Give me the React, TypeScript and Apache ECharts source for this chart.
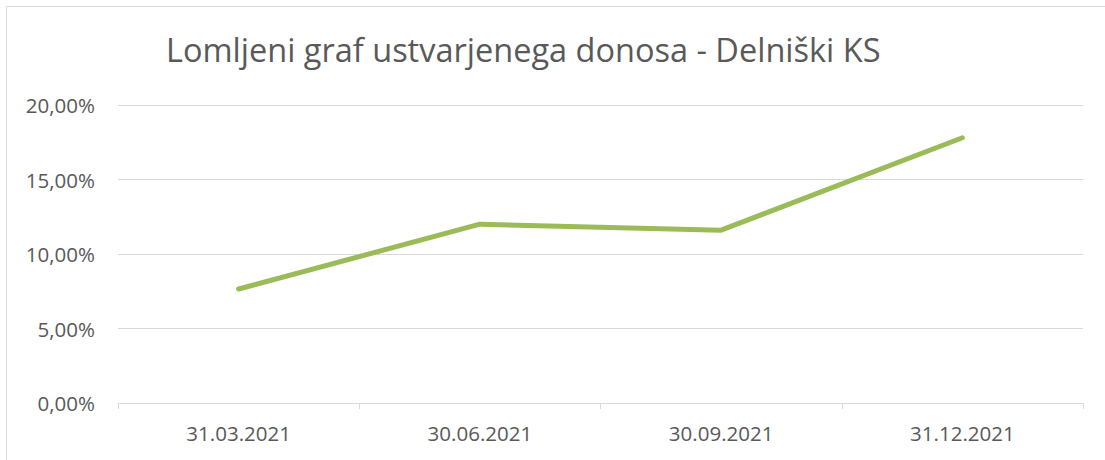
import React, { useEffect, useRef } from "react";
import * as echarts from "echarts";

const categories = ["31.03.2021", "30.06.2021", "30.09.2021", "31.12.2021"];
const values = [7.65, 12.0, 11.6, 17.8];
const titleText = "Lomljeni graf ustvarjenega donosa - Delniški KS";

export default function App() {
  const ref = useRef<HTMLDivElement>(null);
  useEffect(() => {
    document.body.style.margin = "0";
    const chart = echarts.init(ref.current!, null, { renderer: "svg" });
    const font = "'Open Sans', sans-serif";
    chart.setOption({
      animation: false,
      backgroundColor: "#ffffff",
      title: {
        text: titleText,
        left: 161,
        top: 28,
        textStyle: { fontFamily: font, fontSize: 32.5, fontWeight: "normal", color: "#595959" },
      },
      graphic: [
        {
          type: "rect",
          shape: { x: 6.5, y: 6.5, width: 1110, height: 470 },
          style: { fill: "none", stroke: "#d9d9d9", lineWidth: 1 },
          silent: true,
        },
      ],
      grid: { left: 118, right: 22, top: 105, bottom: 57, containLabel: false },
      xAxis: {
        type: "category",
        data: categories,
        boundaryGap: true,
        axisLine: { lineStyle: { color: "#d9d9d9", width: 1 } },
        axisTick: { show: true, length: 6, lineStyle: { color: "#d9d9d9" } },
        axisLabel: { color: "#595959", fontFamily: font, fontSize: 20.5, margin: 19 },
      },
      yAxis: {
        type: "value",
        min: 0,
        max: 20,
        interval: 5,
        axisLine: { show: false },
        axisTick: { show: false },
        splitLine: { lineStyle: { color: "#d9d9d9", width: 1 } },
        axisLabel: {
          color: "#595959",
          fontFamily: font,
          fontSize: 20.5,
          margin: 23,
          formatter: (v: number) => v.toFixed(2).replace(".", ",") + "%",
        },
      },
      series: [
        {
          type: "line",
          data: values,
          symbol: "none",
          lineStyle: { color: "#9bbb59", width: 5, cap: "round", join: "round" },
        },
      ],
    });
    return () => chart.dispose();
  }, []);
  return <div ref={ref} style={{ width: 1105, height: 460 }} />;
}
